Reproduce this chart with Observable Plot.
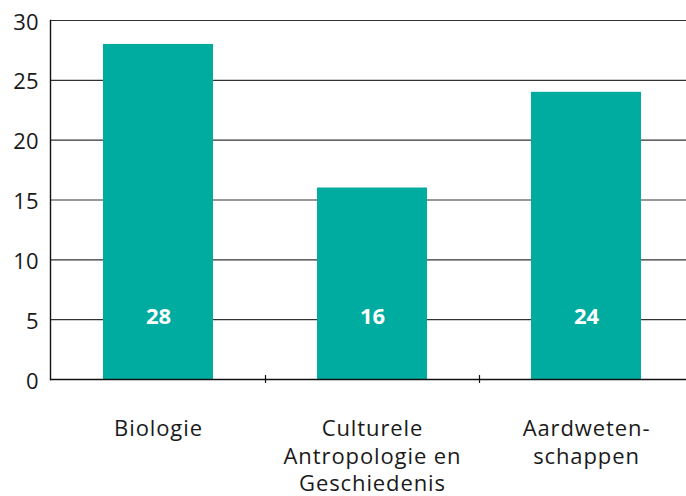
<!DOCTYPE html>
<html>
<head>
<meta charset="utf-8">
<script src="https://cdn.jsdelivr.net/npm/d3@7"></script>
<script src="https://cdn.jsdelivr.net/npm/@observablehq/plot@0.6"></script>
<style>
  html, body { margin: 0; padding: 0; background: #fff; }
  #chart svg { display: block; }
  .xlab text { letter-spacing: 0.9px; }
</style>
</head>
<body>
<div id="chart"></div>
<script>
const categories = ["Biologie", "Culturele\nAntropologie en\nGeschiedenis", "Aardweten-\nschappen"];
const values = [28, 16, 24];
const yTicks = [0, 5, 10, 15, 20, 25, 30];

const data = categories.map((c, i) => ({category: c, value: values[i]}));
const teal = "#00ab9f";

const chart = Plot.plot({
  width: 686,
  height: 496,
  marginLeft: 50,
  marginRight: 0,
  marginTop: 20,
  marginBottom: 117,
  style: {fontFamily: "'Open Sans', sans-serif", fontSize: "22px", color: "#1a1a1a", background: "#fff"},
  x: {domain: categories, range: [51, 693], paddingInner: 0.486, paddingOuter: 0.243, label: null},
  y: {domain: [0, 30], label: null},
  marks: [
    Plot.ruleY(yTicks.filter(d => d > 0), {stroke: "#333", strokeWidth: 1.2}),
    Plot.barY(data, {x: "category", y: "value", fill: teal}),
    Plot.ruleY([0], {stroke: "#111", strokeWidth: 1.4}),
    Plot.frame({anchor: "left", stroke: "#111", strokeWidth: 1.4}),
    Plot.axisY({ticks: yTicks, tickSize: 0, tickPadding: 12, fontSize: 22, dy: 2, label: null}),
    Plot.axisX({tickSize: 0, tickPadding: 37, fontSize: 22, lineHeight: 1.25, lineAnchor: "top", fill: "#1a1a1a", label: null, className: "xlab"}),
    Plot.ruleX(categories.slice(1), {x: d => d, y1: -0.33, y2: 0.33, dx: -107, stroke: "#111", strokeWidth: 1.2}),
    Plot.text(data, {x: "category", y: () => 5, dy: -3, text: d => String(d.value), fill: "#fff", fontWeight: "bold", fontSize: 22})
  ]
});
document.getElementById("chart").appendChild(chart);
</script>
</body>
</html>
